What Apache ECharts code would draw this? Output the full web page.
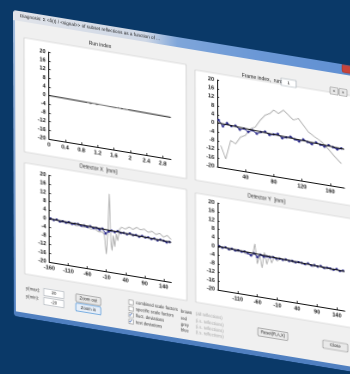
<!DOCTYPE html>
<html>
<head>
<meta charset="utf-8">
<script src="https://cdn.jsdelivr.net/npm/echarts/dist/echarts.min.js"></script>
<style>
  html, body { margin: 0; padding: 0; width: 350px; height: 374px; overflow: hidden; background: #0a3968; }
  #dlg { position: absolute; left: 0; top: 0; width: 350px; height: 306px; transform-origin: 0 0; }
</style>
</head>
<body>
<div id="dlg"></div>
<script>
// ---------- axis ticks ----------
const yTicks = [-20, -16, -12, -8, -4, 0, 4, 8, 12, 16, 20];
const runTicks = [0, 0.4, 0.8, 1.2, 1.6, 2, 2.4, 2.8];
const frameTicks = [40, 80, 120, 160];
const detXTicks = [-160, -110, -60, -10, 40, 90, 140];
const detYTicks = [-110, -60, -10, 40, 90, 140];

// ---------- run index ----------
const runFitX = [0, 3];
const runFit = [0, -0.8];
const runGreyX = [0.95, 1.03, 1.1, 1.18, 1.25, 1.65, 1.72, 1.8, 1.88, 1.96];
const runGrey = [-0.3, -0.7, -0.2, -0.6, -0.4, -0.6, -0.2, -0.8, -0.3, -0.7];

// ---------- frame index ----------
const frameX = [2, 8, 14, 20, 26, 32, 38, 44, 50, 56, 62, 68, 74, 80, 86, 92, 98, 104, 110, 116, 122, 128, 134, 140, 146, 152, 158, 164, 170, 176];
const frameBlue = [1.6, -0.9, 0.8, -0.2, 0.3, -1.2, -0.4, -1.6, -0.5, -1.8, -0.7, -0.2, -1.4, -0.8, -0.3, -1.9, -1.2, -0.6, -1.5, -2.1, -0.9, -1.7, -2.4, -1.3, -2.0, -2.6, -1.6, -2.2, -2.9, -2.1];
const frameFitX = [0, 180];
const frameFit = [0.3, -2.3];
const frameGreyX = [5, 12, 19, 26, 33, 40, 47, 54, 61, 68, 75, 80, 87, 94, 101, 108, 115, 122, 129, 138, 148, 157, 167, 176];
const frameGrey = [-10, -15.8, -6.9, -8.1, -4.6, -3.4, 0, 1.2, 4.7, 7.4, 8.6, 10.4, 9.2, 11.1, 9.2, 7.3, 8.4, 5.7, 3.0, 1.2, -0.6, -3.3, -6.6, -9.2];

// ---------- detector X / Y ----------
const detPosX = [-156, -148, -140, -132, -124, -116, -108, -100, -92, -84, -76, -68, -60, -52, -44, -36, -28, -20, -12, -4, 4, 12, 20, 28, 36, 44, 52, 60, 68, 76, 84, 92, 100, 108, 116, 124, 132, 140, 148, 156];
const detXBlue = [0.2, -0.3, 0.1, -0.5, -0.2, -0.6, -0.1, -0.7, -0.4, -0.3, -0.8, -0.5, -0.9, -0.4, -1.0, -0.7, -1.3, -0.6, -2.6, -1.4, -0.8, -1.2, -0.6, -1.1, -0.9, -1.3, -0.7, -1.2, -1.0, -1.5, -0.9, -1.4, -1.1, -1.6, -1.2, -1.8, -1.3, -1.5, -2.0, -1.6];
const detXFitX = [-160, 160];
const detXFit = [0, -1.6];
const detXGreyX = [-160, -150, -140, -130, -120, -110, -100, -90, -80, -70, -60, -50, -40, -30, -20, -15, -10, -6, -2, 2, 5, 8, 12, 16, 20, 25, 30, 40, 50, 60, 70, 80, 90, 100, 110, 120, 130, 140, 150, 160];
const detXGrey = [0.3, -0.4, -0.2, -0.8, -0.5, -1.0, -0.6, -1.2, -0.9, -1.4, -1.1, -1.6, -1.3, -2.4, -2.0, -3.5, -12, -2, 16, -6, -10, -3, -8, -2, -5, 0.5, 1.5, 1.0, 2.2, 1.4, 2.6, 1.8, 2.4, 1.2, 2.0, 0.8, 1.6, 0.2, 1.2, -0.3];

const detYBlue = [0.3, -0.2, 0.2, -0.4, 0.0, -0.5, -0.2, -0.6, -0.3, -0.8, -1.6, -0.4, -1.9, -0.6, -1.2, -0.8, -1.0, -0.7, -1.1, -0.9, -1.2, -0.8, -1.3, -1.0, -1.4, -1.1, -1.2, -1.5, -1.0, -1.6, -1.3, -1.7, -1.2, -1.8, -1.5, -1.6, -1.9, -1.4, -2.0, -1.7];
const detYFitX = [-160, 160];
const detYFit = [0.1, -1.9];
const detYGreyX = [-160, -150, -140, -130, -120, -110, -100, -90, -80, -72, -66, -60, -54, -48, -42, -36, -30, -24, -18, -10, 0, 10, 20, 30, 40, 50, 60, 70, 80, 90, 100, 110, 120, 130, 140, 150, 160];
const detYGrey = [0.5, -0.6, 0.2, -0.9, -0.1, -1.0, -0.3, -1.2, -0.4, -1.5, 4.0, -5.0, -0.6, -6.5, 0.8, -4.5, -0.2, -3.5, -0.8, -2.2, -0.6, -1.5, -0.7, -1.8, -0.9, -1.3, -1.9, -1.0, -2.1, -1.2, -1.6, -2.2, -1.3, -2.4, -1.5, -2.0, -1.8];

// ---------- dialog texts ----------
const dialogTitle = 'Diagnosis: \u03A3 <\u03B4(I) / <signal>> of subset reflections as a function of ...';
const chartTitles = ['Run index', 'Frame index,  run:', 'Detector X  [mm]', 'Detector Y  [mm]'];
const checkLabels = ['combined scale factors', 'specific scale factors', 'fluct. deviations', 'test deviations'];
const checkStates = [false, false, true, true];
const colourNames = ['brown', 'red', 'grey', 'blue'];
const colourNotes = ['(all reflections)', '(i.s. reflections)', '(i.s. reflections)', '(i.s. reflections)'];

const pairs = (xs, ys) => xs.map((x, i) => [x, ys[i]]);

// ---------- dialog geometry (dialog's own flat coordinates) ----------
const W = 350, H = 306;
const FONT = 'Liberation Sans';
const plotRects = [
  { left: 35.5, top: 36.3, width: 122, height: 86.7 },
  { left: 204, top: 36.3, width: 127, height: 86.7 },
  { left: 35.5, top: 159.5, width: 122, height: 86.5 },
  { left: 204, top: 159.5, width: 127, height: 86.5 }
];
const xRanges = [[0, 3], [0, 180], [-160, 160], [-160, 160]];
const xTickSets = [runTicks, frameTicks, detXTicks, detYTicks];

function xAxisFor(i) {
  return {
    type: 'value', gridIndex: i, min: xRanges[i][0], max: xRanges[i][1],
    axisLine: { show: true, onZero: false, lineStyle: { color: '#111', width: 1 } },
    axisTick: { show: true, inside: true, length: 2, customValues: xTickSets[i], lineStyle: { color: '#111', width: 0.8 } },
    axisLabel: { customValues: xTickSets[i], fontSize: 5.5, fontWeight: 'bold', color: '#1a1a1a', margin: 3, fontFamily: FONT },
    splitLine: { show: false }
  };
}
function yAxisFor(i) {
  return {
    type: 'value', gridIndex: i, min: yTicks[0], max: yTicks[yTicks.length - 1],
    axisLine: { show: true, onZero: false, lineStyle: { color: '#111', width: 1 } },
    axisTick: { show: true, inside: true, length: 2, customValues: yTicks, lineStyle: { color: '#111', width: 0.8 } },
    axisLabel: { customValues: yTicks, fontSize: 5.5, fontWeight: 'bold', color: '#1a1a1a', margin: 3, fontFamily: FONT },
    splitLine: { show: false }
  };
}

function greyLine(i, data, z) {
  return { type: 'line', xAxisIndex: i, yAxisIndex: i, data, showSymbol: false, z: z || 2,
    lineStyle: { color: '#a6a6a6', width: 0.8 }, itemStyle: { color: '#a6a6a6' } };
}
function blueLine(i, data) {
  return { type: 'line', xAxisIndex: i, yAxisIndex: i, data, symbol: 'circle', symbolSize: 2.5, z: 3,
    lineStyle: { color: '#2d2d8c', width: 0.9 }, itemStyle: { color: '#2d2d8c' } };
}
function fitLine(i, data) {
  return { type: 'line', xAxisIndex: i, yAxisIndex: i, data, showSymbol: false, z: 4,
    lineStyle: { color: '#121212', width: 1 }, itemStyle: { color: '#121212' } };
}

const series = [
  fitLine(0, pairs(runFitX, runFit)),
  greyLine(0, pairs(runGreyX, runGrey), 5),
  greyLine(1, pairs(frameGreyX, frameGrey)),
  blueLine(1, pairs(frameX, frameBlue)),
  fitLine(1, pairs(frameFitX, frameFit)),
  greyLine(2, pairs(detXGreyX, detXGrey)),
  blueLine(2, pairs(detPosX, detXBlue)),
  fitLine(2, pairs(detXFitX, detXFit)),
  greyLine(3, pairs(detYGreyX, detYGrey)),
  blueLine(3, pairs(detPosX, detYBlue)),
  fitLine(3, pairs(detYFitX, detYFit))
];

// ---------- window chrome ----------
const g = [];
function box(x, y, w, h, fill, stroke, z, r) {
  g.push({ type: 'rect', z: z == null ? -5 : z, shape: { x, y, width: w, height: h, r: r || 0 },
    style: { fill, stroke: stroke || null, lineWidth: stroke ? 0.6 : 0 } });
}
function label(x, y, text, size, color, align, weight) {
  g.push({ type: 'text', z: 20, x, y, style: { text, fill: color || '#1c1c1c', fontSize: size,
    fontFamily: FONT, fontWeight: weight || 'normal', align: align || 'left', verticalAlign: 'middle' } });
}

// frame and title bar
g.push({ type: 'rect', z: -9, shape: { x: 0, y: 0, width: W, height: H, r: 3 },
  style: { fill: new echarts.graphic.LinearGradient(0, 0, 0, 1, [
    { offset: 0, color: '#a9c2e2' }, { offset: 1, color: '#4f7fc0' }]) } });
g.push({ type: 'rect', z: -8, shape: { x: 0, y: 0, width: W, height: 10, r: [3, 3, 0, 0] },
  style: { fill: new echarts.graphic.LinearGradient(0, 0, 1, 0, [
    { offset: 0, color: '#e1e4ea' }, { offset: 0.38, color: '#cfd8e6' },
    { offset: 0.47, color: '#7fa6da' }, { offset: 0.7, color: '#6b98d6' }, { offset: 1, color: '#5f8fd2' }]) } });
g.push({ type: 'rect', z: -7, shape: { x: 329, y: 0.5, width: 20, height: 7.5, r: [0, 0, 2, 2] },
  style: { fill: '#c8443a', stroke: '#8e2a24', lineWidth: 0.4 } });
label(7, 4.8, dialogTitle, 4.6, '#222');
box(2, 10, W - 4, H - 15, '#f0f0f0', null, -6);

// chart panels
box(11, 26, 162, 114, '#ffffff', '#c4c4c4');
box(182, 30, 166, 110, '#ffffff', '#c4c4c4');
box(11, 151, 162, 111, '#ffffff', '#c4c4c4');
box(182, 153, 166, 109, '#ffffff', '#c4c4c4');

label(87, 20.6, chartTitles[0], 5, '#222', 'center');
label(249, 27.5, chartTitles[1], 5, '#222', 'center');
box(268, 24, 15, 7, '#ffffff', '#9aa3ad', 1);
label(275.5, 27.5, '1', 4.6, '#222', 'center');
box(317, 24.5, 8, 7, '#e8e8e8', '#8d8d8d', 1, 1);
box(326, 24.5, 8, 7, '#e8e8e8', '#8d8d8d', 1, 1);
label(321, 28, '<', 4.6, '#333', 'center');
label(330, 28, '>', 4.6, '#333', 'center');
label(85, 145, chartTitles[2], 5, '#222', 'center');
label(253, 147, chartTitles[3], 5, '#222', 'center');

// y range controls
label(12, 276.5, 'y(max):', 4.3, '#333');
label(12, 284.5, 'y(min):', 4.3, '#333');
box(30, 273.4, 20, 7, '#ffffff', '#a9b0b8', 1);
box(30, 282.6, 20, 7, '#ffffff', '#a9b0b8', 1);
label(40, 277, '20', 4.3, '#222', 'center');
label(40, 286.2, '-20', 4.3, '#222', 'center');

// zoom buttons
box(62, 273.7, 25, 7.5, '#e9e9e9', '#8a8a8a', 1, 1);
label(74.5, 277.5, 'Zoom out', 4.2, '#222', 'center');
box(62, 282.8, 25, 7.8, '#e6eef8', '#3d8ad6', 1, 1);
label(74.5, 286.7, 'Zoom in', 4.2, '#222', 'center');

// check boxes
const checkRows = [273, 279.4, 285.8, 292.2];
checkRows.forEach((v, i) => {
  box(115, v - 2.2, 4.4, 4.4, '#ffffff', '#8e8f8f', 1);
  if (checkStates[i]) label(117.2, v, '\u2713', 4.6, '#2a56b0', 'center', 'bold');
  label(122, v, checkLabels[i], 4.1, '#333');
});

// colour key
const keyRows = [274.1, 280.7, 286.7, 292.4];
keyRows.forEach((v, i) => {
  label(167, v, colourNames[i], 4.1, '#333');
  label(182, v, colourNotes[i], 4.1, '#a5a5a5');
});

// bottom buttons
box(244, 277.3, 30, 8, '#e9e9e9', '#8a8a8a', 1, 1);
label(259, 281.3, 'Reset(R,A,X)', 4.1, '#222', 'center');
box(309, 279, 25, 8, '#e9e9e9', '#8a8a8a', 1, 1);
label(321.5, 283, 'Close', 4.2, '#222', 'center');

const option = {
  animation: false,
  backgroundColor: 'transparent',
  grid: plotRects.map(r => Object.assign({ containLabel: false }, r)),
  xAxis: [0, 1, 2, 3].map(xAxisFor),
  yAxis: [0, 1, 2, 3].map(yAxisFor),
  series,
  graphic: { elements: g }
};

// ---------- tilt the flat dialog onto its quadrilateral ----------
function quadMatrix(w, h, p) {
  const [x0, y0] = p[0], [x1, y1] = p[1], [x2, y2] = p[2], [x3, y3] = p[3];
  const sx = x0 - x1 + x2 - x3, sy = y0 - y1 + y2 - y3;
  const dx1 = x1 - x2, dx2 = x3 - x2, dy1 = y1 - y2, dy2 = y3 - y2;
  const den = dx1 * dy2 - dx2 * dy1;
  const gg = (sx * dy2 - dx2 * sy) / den;
  const hh = (dx1 * sy - sx * dy1) / den;
  const a = x1 - x0 + gg * x1, b = x3 - x0 + hh * x3, c = x0;
  const d = y1 - y0 + gg * y1, e = y3 - y0 + hh * y3, f = y0;
  return 'matrix3d(' + [a / w, d / w, 0, gg / w, b / h, e / h, 0, hh / h, 0, 0, 1, 0, c, f, 0, 1].join(',') + ')';
}
const corners = [[13, 10], [363, 67.75], [363.9, 373.75], [13.9, 316]];
const el = document.getElementById('dlg');
el.style.transform = quadMatrix(W, H, corners);

const chart = echarts.init(el, null, { renderer: 'canvas', devicePixelRatio: 2 });
chart.setOption(option);
</script>
</body>
</html>
